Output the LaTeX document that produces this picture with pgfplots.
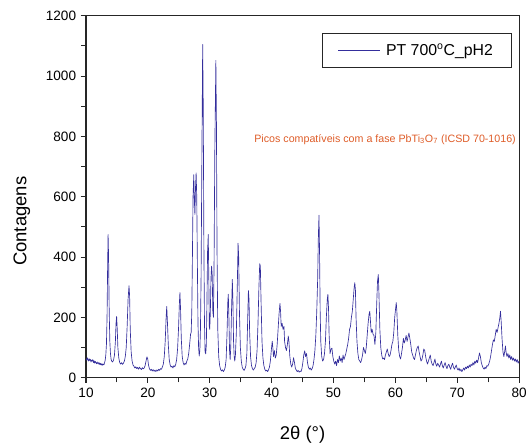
\documentclass[border=0pt]{standalone}
\usepackage{pgfplots}
\pgfplotsset{compat=1.18}
\usepackage{fontspec}
\setmainfont{Liberation Sans}
\definecolor{plotblue}{RGB}{52,46,156}
\definecolor{annot}{RGB}{222,92,40}
\begin{document}
\begin{tikzpicture}
\begin{axis}[
  scale only axis, clip=false,
  width=328.5pt, height=274.5pt,
  xmin=10, xmax=80, ymin=0, ymax=1200,
  xtick={10,20,...,80}, ytick={0,200,...,1200},
  minor x tick num=1, minor y tick num=1,
  tick align=outside, xtick pos=left, ytick pos=left,
  major tick length=4pt, minor tick length=3.5pt,
  axis line style={line width=0.8pt, black!85},
  every tick/.style={line width=0.8pt, black!85},
  /pgf/number format/assume math mode=true,
  /pgf/number format/set thousands separator={},
  tick label style={font=\fontsize{10.3pt}{12pt}\selectfont},
  xlabel={2θ (°)},
  ylabel={Contagens},
  xlabel style={font=\fontsize{14pt}{16pt}\selectfont, at={(axis description cs:0.5,0)}, anchor=center, yshift=-43.5pt},
  ylabel style={font=\fontsize{14pt}{16pt}\selectfont, at={(axis description cs:0,0.432)}, anchor=center, yshift=48.75pt},
  legend style={at={(axis description cs:1,1)}, anchor=north east, xshift=-5.5pt, yshift=-12.75pt,
    draw=black!85, line width=0.7pt, inner xsep=12pt, inner ysep=6pt,
    font=\fontsize{12pt}{14pt}\selectfont, cells={anchor=west}},
  legend image code/.code={\draw[plotblue, line width=0.6pt] (0pt,0pt) -- (31.5pt,0pt); \path (34pt,0pt);},
]
\addplot[plotblue, line width=0.5pt, line join=round] coordinates {
(10.0,62) (10.1,58) (10.2,66) (10.3,60) (10.4,55) (10.5,63) (10.6,57) (10.7,61) (10.8,52) (10.9,58)
(11.0,55) (11.1,60) (11.2,50) (11.3,56) (11.4,48) (11.5,54) (11.6,50) (11.7,46) (11.8,52) (11.9,47)
(12.0,50) (12.1,44) (12.2,49) (12.3,43) (12.4,47) (12.5,42) (12.6,46) (12.7,41) (12.8,45) (12.9,43)
(13.0,50) (13.1,58) (13.2,75) (13.3,110) (13.4,200) (13.5,380) (13.57,475) (13.65,400) (13.75,220) (13.85,120)
(13.95,80) (14.05,62) (14.15,55) (14.3,52) (14.45,58) (14.6,75) (14.75,120) (14.85,180) (14.95,203) (15.05,160)
(15.15,100) (15.3,65) (15.45,50) (15.6,45) (15.75,50) (15.9,44) (16.05,48) (16.2,55) (16.35,70) (16.5,100)
(16.65,170) (16.8,260) (16.95,305) (17.05,270) (17.15,160) (17.3,85) (17.45,55) (17.6,42) (17.75,38) (17.9,32)
(18.05,36) (18.2,30) (18.35,34) (18.5,28) (18.65,35) (18.8,30) (18.95,27) (19.1,33) (19.25,29) (19.4,32)
(19.55,40) (19.7,55) (19.85,69) (19.98,62) (20.1,42) (20.25,30) (20.4,24) (20.55,28) (20.7,22) (20.85,27)
(21.0,21) (21.15,25) (21.3,20) (21.45,26) (21.6,22) (21.75,28) (21.9,24) (22.05,30) (22.2,28) (22.35,36)
(22.5,45) (22.65,70) (22.8,120) (22.95,200) (23.05,236) (23.15,190) (23.3,110) (23.45,60) (23.6,42) (23.75,35)
(23.9,38) (24.05,32) (24.2,40) (24.35,36) (24.5,44) (24.65,60) (24.8,95) (24.95,160) (25.1,250) (25.18,282)
(25.28,230) (25.4,130) (25.55,70) (25.7,50) (25.85,42) (26.0,48) (26.15,44) (26.3,55) (26.45,62) (26.6,80)
(26.75,110) (26.9,144) (27.0,150) (27.1,220) (27.2,400) (27.3,600) (27.42,673) (27.5,600) (27.6,541) (27.7,630)
(27.8,679) (27.9,600) (28.0,380) (28.1,180) (28.2,100) (28.3,72) (28.4,90) (28.5,160) (28.6,330) (28.72,700)
(28.86,1105) (28.95,900) (29.05,450) (29.15,180) (29.25,85) (29.35,79) (29.45,110) (29.55,250) (29.65,420) (29.76,475)
(29.85,330) (29.93,170) (30.0,160) (30.1,220) (30.2,330) (30.3,370) (30.4,340) (30.5,220) (30.6,200) (30.7,380)
(30.82,750) (30.99,1052) (31.08,850) (31.18,420) (31.3,160) (31.45,70) (31.6,40) (31.75,28) (31.9,22) (32.05,26)
(32.2,20) (32.35,25) (32.5,35) (32.65,60) (32.8,150) (32.92,250) (33.0,277) (33.1,200) (33.2,90) (33.3,60)
(33.4,100) (33.52,220) (33.65,326) (33.75,250) (33.85,120) (33.95,70) (34.05,55) (34.15,75) (34.3,150) (34.45,300)
(34.58,446) (34.68,400) (34.8,220) (34.95,100) (35.1,55) (35.25,35) (35.4,28) (35.55,24) (35.7,30) (35.85,40)
(36.0,80) (36.12,180) (36.25,289) (36.35,260) (36.45,150) (36.6,70) (36.75,40) (36.9,30) (37.05,25) (37.2,30)
(37.35,35) (37.5,50) (37.65,90) (37.8,180) (37.95,300) (38.08,378) (38.18,370) (38.3,250) (38.45,120) (38.6,65)
(38.75,40) (38.9,28) (39.05,22) (39.2,25) (39.35,20) (39.5,26) (39.65,35) (39.8,55) (39.95,90) (40.1,121)
(40.2,100) (40.3,70) (40.45,90) (40.6,65) (40.75,75) (40.9,110) (41.05,160) (41.2,210) (41.35,246) (41.45,220)
(41.55,170) (41.7,180) (41.85,160) (42.0,170) (42.1,120) (42.25,100) (42.4,90) (42.55,110) (42.7,138) (42.8,120)
(42.95,70) (43.1,45) (43.25,35) (43.4,45) (43.55,66) (43.7,50) (43.85,30) (44.0,25) (44.15,20) (44.3,24)
(44.45,18) (44.6,22) (44.75,20) (44.9,30) (45.05,50) (45.2,75) (45.35,89) (45.5,70) (45.65,80) (45.8,50)
(45.95,35) (46.1,28) (46.25,32) (46.4,25) (46.55,30) (46.7,40) (46.85,60) (47.0,90) (47.15,140) (47.3,220)
(47.45,330) (47.55,460) (47.66,539) (47.75,420) (47.85,220) (47.95,120) (48.1,70) (48.25,55) (48.4,60) (48.55,80)
(48.7,120) (48.85,200) (49.0,260) (49.1,276) (49.2,230) (49.3,140) (49.45,80) (49.6,95) (49.75,98) (49.9,70)
(50.05,55) (50.2,45) (50.35,55) (50.5,40) (50.65,60) (50.8,50) (50.95,72) (51.1,55) (51.25,65) (51.4,50)
(51.55,75) (51.7,60) (51.85,70) (52.0,80) (52.15,95) (52.3,110) (52.45,130) (52.6,160) (52.75,170) (52.9,200)
(53.05,220) (53.2,260) (53.35,300) (53.45,315) (53.55,290) (53.65,200) (53.8,120) (53.95,80) (54.1,60) (54.25,55)
(54.4,50) (54.55,60) (54.7,75) (54.85,100) (55.0,90) (55.15,80) (55.3,100) (55.45,140) (55.6,180) (55.75,210)
(55.87,220) (55.97,190) (56.1,150) (56.25,160) (56.4,144) (56.55,140) (56.7,110) (56.85,150) (57.0,250) (57.12,320)
(57.25,342) (57.35,280) (57.5,160) (57.65,100) (57.8,75) (57.95,62) (58.1,65) (58.25,60) (58.4,75) (58.55,85)
(58.7,95) (58.85,80) (59.0,70) (59.15,75) (59.3,90) (59.45,110) (59.6,120) (59.75,150) (59.9,200) (60.05,230)
(60.15,249) (60.25,220) (60.4,140) (60.55,90) (60.7,70) (60.85,62) (61.0,80) (61.15,100) (61.3,130) (61.45,115)
(61.6,125) (61.75,140) (61.9,120) (62.05,135) (62.2,148) (62.35,130) (62.5,110) (62.65,85) (62.8,75) (62.95,65)
(63.1,60) (63.25,75) (63.4,90) (63.55,100) (63.7,105) (63.85,85) (64.0,70) (64.15,55) (64.3,60) (64.45,75)
(64.6,95) (64.75,90) (64.9,70) (65.05,55) (65.2,45) (65.35,55) (65.5,65) (65.65,75) (65.8,55) (65.95,45)
(66.1,40) (66.25,50) (66.4,62) (66.55,45) (66.7,38) (66.85,48) (67.0,42) (67.15,35) (67.3,45) (67.45,55)
(67.6,40) (67.75,32) (67.9,42) (68.05,50) (68.2,38) (68.35,30) (68.5,40) (68.65,45) (68.8,35) (68.95,28)
(69.1,40) (69.25,48) (69.4,35) (69.55,28) (69.7,35) (69.85,42) (70.0,30) (70.15,25) (70.3,32) (70.45,22)
(70.6,28) (70.75,20) (70.9,26) (71.05,32) (71.2,25) (71.35,35) (71.5,30) (71.65,38) (71.8,32) (71.95,42)
(72.1,35) (72.25,45) (72.4,40) (72.55,50) (72.7,42) (72.85,55) (73.0,48) (73.15,58) (73.3,50) (73.45,65)
(73.6,82) (73.75,70) (73.9,50) (74.05,40) (74.2,32) (74.35,28) (74.5,35) (74.65,30) (74.8,40) (74.95,38)
(75.1,45) (75.25,55) (75.4,70) (75.55,90) (75.7,110) (75.85,125) (76.0,120) (76.15,140) (76.3,160) (76.45,150)
(76.6,165) (76.75,180) (76.9,200) (77.0,220) (77.1,190) (77.25,130) (77.4,85) (77.55,70) (77.7,90) (77.8,105)
(77.9,85) (78.05,70) (78.2,80) (78.35,65) (78.5,75) (78.65,60) (78.8,70) (78.95,58) (79.1,65) (79.25,55)
(79.4,62) (79.55,52) (79.7,60) (79.85,48) (80.0,55)
};
\addlegendentry{PT 700\textsuperscript{o}C\_pH2}
\node[anchor=east, text=annot, font=\fontsize{8.1pt}{9.7pt}\selectfont, inner sep=0pt] at (axis cs:79.52,790)
  {Picos compatíveis com a fase PbTi\textsubscript{3}O\textsubscript{7} (ICSD 70-1016)};
\end{axis}
\path[use as bounding box] ([shift={(-65.25pt,-52.5pt)}]current axis.south west) rectangle ([shift={(4.5pt,12pt)}]current axis.north east);
\end{tikzpicture}
\end{document}
